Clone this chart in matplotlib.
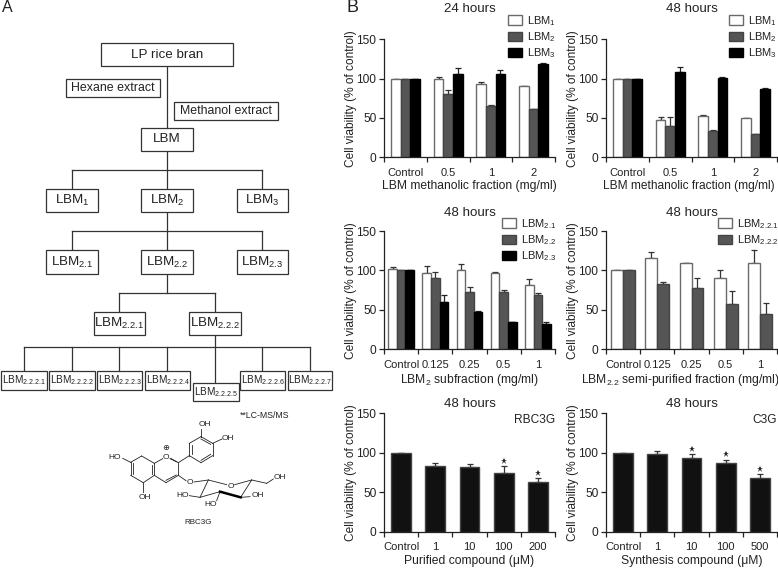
import matplotlib
matplotlib.use("Agg")
import matplotlib.pyplot as plt
from matplotlib.patches import Rectangle

plt.rcParams.update({
    "font.family": ["Liberation Sans", "DejaVu Sans"],
    "mathtext.fontset": "custom",
    "mathtext.rm": "Liberation Sans",
    "mathtext.default": "regular",
    "axes.linewidth": 0.9,
    "text.color": "#1a1a1a",
})

W, H = 778, 568
INK = "#222222"
WHITE, GREY, BLACK = "#ffffff", "#555555", "#000000"

# ---------- data: panel B ----------
cats_p1 = ["Control", "0.5", "1", "2"]
p1_lbm1 = [100, 100, 93, 90];  p1_lbm1_e = [0, 2, 3, 0.5]
p1_lbm2 = [100, 80, 65, 61];   p1_lbm2_e = [0, 5, 1, 0.5]
p1_lbm3 = [100, 106, 106, 118]; p1_lbm3_e = [0, 7, 5, 1.5]

p2_lbm1 = [100, 48, 53, 50];   p2_lbm1_e = [0, 3, 1, 0.3]
p2_lbm2 = [100, 40, 34, 29];   p2_lbm2_e = [0, 11, 0.5, 0.5]
p2_lbm3 = [100, 108, 101, 87]; p2_lbm3_e = [0, 7, 1, 1]

cats_p3 = ["Control", "0.125", "0.25", "0.5", "1"]
p3_a = [102, 97, 100, 97, 82]; p3_a_e = [2, 8, 8, 0.5, 7]
p3_b = [100, 91, 73, 73, 69];  p3_b_e = [0, 7, 6, 2, 3]
p3_c = [100, 60, 47, 34, 32];  p3_c_e = [0, 9, 1.5, 1, 2]

p4_a = [100, 116, 109, 90, 109]; p4_a_e = [0, 8, 0.5, 10, 17]
p4_b = [100, 83, 78, 58, 45];    p4_b_e = [0, 2.5, 12, 16, 14]

cats_p5 = ["Control", "1", "10", "100", "200"]
p5 = [100, 83, 82, 74, 63]; p5_e = [0, 4, 4, 9, 5]; p5_star = [3, 4]

cats_p6 = ["Control", "1", "10", "100", "500"]
p6 = [100, 99, 93, 87, 68]; p6_e = [0, 3, 5, 4, 5]; p6_star = [2, 3, 4]

labels_123 = ["LBM$_{1}$", "LBM$_{2}$", "LBM$_{3}$"]
labels_2x = ["LBM$_{2.1}$", "LBM$_{2.2}$", "LBM$_{2.3}$"]
labels_22x = ["LBM$_{2.2.1}$", "LBM$_{2.2.2}$"]

# ---------- data: panel A diagram ----------
# (label, left, top, right, bottom, font size)
flow_boxes = [
    ("LP rice bran", 101, 43, 233, 66, 9.6),
    ("Hexane extract", 66, 79, 160, 97, 8.9),
    ("Methanol extract", 174, 102, 278, 120, 8.9),
    ("LBM", 141, 128, 193, 151, 9.6),
    ("LBM$_{1}$", 46, 189, 98, 212, 9.6),
    ("LBM$_{2}$", 141, 189, 193, 212, 9.6),
    ("LBM$_{3}$", 237, 189, 288, 212, 9.6),
    ("LBM$_{2.1}$", 46, 250, 98, 274, 9.6),
    ("LBM$_{2.2}$", 141, 250, 193, 274, 9.6),
    ("LBM$_{2.3}$", 237, 250, 288, 274, 9.6),
    ("LBM$_{2.2.1}$", 94, 312, 145, 335, 9.6),
    ("LBM$_{2.2.2}$", 189, 312, 241, 335, 9.6),
    ("LBM$_{2.2.2.1}$", 1, 371, 47, 390, 7.2),
    ("LBM$_{2.2.2.2}$", 49, 371, 95, 390, 7.2),
    ("LBM$_{2.2.2.3}$", 97, 371, 142, 390, 7.2),
    ("LBM$_{2.2.2.4}$", 145, 371, 190, 390, 7.2),
    ("LBM$_{2.2.2.5}$", 193, 383, 239, 401, 7.2),
    ("LBM$_{2.2.2.6}$", 240, 371, 285, 390, 7.2),
    ("LBM$_{2.2.2.7}$", 288, 371, 332, 390, 7.2),
]
flow_lines = [
    (167, 66, 167, 128), (167, 151, 167, 189), (72, 170, 262, 170),
    (72, 170, 72, 189), (262, 170, 262, 189),
    (167, 212, 167, 250), (72, 231, 262, 231), (72, 231, 72, 250), (262, 231, 262, 250),
    (167, 274, 167, 293), (119.5, 293, 215, 293), (119.5, 293, 119.5, 312), (215, 293, 215, 312),
    (215, 335, 215, 383), (24, 347, 310, 347),
    (24, 347, 24, 371), (72, 347, 72, 371), (119.5, 347, 119.5, 371),
    (167, 347, 167, 371), (262, 347, 262, 371), (310, 347, 310, 371),
]
# molecule bonds, in zoomed coordinates of the lower-left panel
bonds = [
    (392, 517, 425, 498), (425, 498, 463, 520), (463, 520, 463, 556), (463, 556, 430, 578),
    (430, 578, 392, 556), (392, 556, 392, 517), (399, 520, 399, 553), (457, 525, 457, 552),
    (463, 520, 488, 506), (510, 506, 535, 518), (535, 518, 535, 556), (535, 556, 498, 578),
    (498, 578, 463, 556), (512, 505, 530, 515), (529, 555, 498, 571), (535, 518, 568, 497),
    (568, 497, 568, 460), (568, 460, 603, 440), (603, 440, 638, 460), (638, 460, 638, 497),
    (638, 497, 603, 518), (603, 518, 568, 497), (575, 493, 575, 464), (603, 447, 632, 463),
    (632, 493, 603, 511), (603, 440, 603, 416), (638, 460, 666, 447),
    (392, 517, 368, 505), (430, 578, 430, 606), (535, 556, 558, 572), (582, 576, 625, 570),
    (625, 570, 680, 584), (704, 584, 755, 570), (625, 570, 600, 622), (600, 622, 660, 605),
    (722, 622, 755, 570), (755, 570, 800, 580), (800, 580, 820, 567), (600, 622, 568, 617),
    (660, 605, 650, 632), (722, 622, 750, 620),
]
bond_bold = [(660, 605, 722, 622)]
atoms = [
    ("HO", 345, 503), ("OH", 435, 622), ("OH", 615, 404), ("OH", 685, 444), ("O", 499, 503),
    ("O", 570, 578), ("O", 692, 588), ("HO", 548, 617), ("HO", 632, 643), ("OH", 773, 616),
    ("OH", 840, 563), ("\u2295", 497, 476),
]


def zx(v):
    return v / 3


def zy(v):
    return 290 + v / 3


def px_axes(fig, left, top, right, bottom):
    return fig.add_axes([left / W, 1 - bottom / H, (right - left) / W, (bottom - top) / H])


fig = plt.figure(figsize=(W / 100, H / 100), dpi=100, facecolor="white")

# ---------- overlay: panel A ----------
ov = fig.add_axes([0, 0, 1, 1], zorder=5)
ov.set_xlim(0, W)
ov.set_ylim(H, 0)
ov.axis("off")
ov.patch.set_alpha(0)

ov.text(2, 8, "A", fontsize=11.5, ha="left", va="center", color=INK)
ov.text(347, 8, "B", fontsize=13, ha="left", va="center", color=INK)

for x0, y0, x1, y1 in flow_lines:
    ov.plot([x0, x1], [y0, y1], color="#333333", lw=0.9, solid_capstyle="projecting")
for label, l, t, r, b, fs in flow_boxes:
    ov.add_patch(Rectangle((l, t), r - l, b - t, fc="white", ec="#333333", lw=0.9, zorder=3))
    ov.text((l + r) / 2, (t + b) / 2, label, ha="center", va="center", fontsize=fs, color=INK, zorder=4)

for x0, y0, x1, y1 in bonds:
    ov.plot([zx(x0), zx(x1)], [zy(y0), zy(y1)], color="#222222", lw=0.6)
for x0, y0, x1, y1 in bond_bold:
    ov.plot([zx(x0), zx(x1)], [zy(y0), zy(y1)], color="#000000", lw=1.8)
for s, x, y in atoms:
    ov.text(zx(x), zy(y), s, ha="center", va="center", fontsize=6.0, color=INK,
            family=["Liberation Sans", "DejaVu Sans"])
ov.text(zx(593), zy(696), "RBC3G", ha="center", va="center", fontsize=5.8, color=INK)
ov.text(zx(795), zy(376), "**LC-MS/MS", ha="center", va="center", fontsize=6.3, color=INK)

# ---------- panel B ----------
LEFT_COL = (384, 555)
RIGHT_COL = (606, 777)
ROWS = [(39.3, 157.3), (231, 349.3), (413.3, 531.7)]
TICK_FS = 8.0
STAR_OFFSET = 7


def panel(col, row, title, title_pad, xlabel, cats, series, width, legend=None, stars=None, corner=None,
          xlabel_center=None, xlabel_fs=8.7):
    ax = px_axes(fig, col[0], row[0], col[1], row[1])
    n = len(cats)
    k = len(series)
    centers = [i + 0.5 for i in range(n)]
    for j, (vals, errs, color, label) in enumerate(series):
        pos = [c + (j - (k - 1) / 2) * width for c in centers]
        edge = color if color == BLACK else ("#6a6a6a" if color == WHITE else "#444444")
        ax.bar(pos, vals, width=width, color=color, edgecolor=edge, linewidth=1.0, label=label, zorder=2)
        ecol = "#333333" if color != BLACK else "#222222"
        ax.errorbar(pos, vals, yerr=[[0] * n, errs], fmt="none", ecolor=ecol, elinewidth=0.9,
                    capsize=2.4, capthick=0.9, zorder=1)
    ax.set_xlim(0, n)
    ax.set_ylim(0, 150)
    ax.set_yticks([0, 50, 100, 150])
    ax.set_xticks(range(n + 1))
    ax.set_xticklabels([])
    ax.set_xticks(centers, minor=True)
    ax.set_xticklabels(cats, minor=True, fontsize=TICK_FS, color=INK)
    ax.tick_params(axis="x", which="minor", length=0, pad=7.5)
    ax.tick_params(axis="x", which="major", length=3.5, width=0.9, color=INK)
    ax.tick_params(axis="y", length=3.5, width=0.9, labelsize=8.6, pad=2, color=INK, labelcolor=INK)
    for s in ("top", "right"):
        ax.spines[s].set_visible(False)
    for s in ("left", "bottom"):
        ax.spines[s].set_color(INK)
    ax.set_title(title, fontsize=9.6, pad=title_pad, color=INK)
    ax.set_xlabel(xlabel, fontsize=xlabel_fs, labelpad=2, color=INK)
    if xlabel_center is not None:
        ax.xaxis.set_label_coords((xlabel_center - col[0]) / (col[1] - col[0]), -0.192)
    ax.set_ylabel("Cell viability (% of control)", fontsize=8.6, color=INK)
    ax.yaxis.set_label_coords(-0.157, 0.5)
    if legend:
        lx, ly = legend
        ax.legend(loc="upper left", bbox_to_anchor=(lx / W, 1 - ly / H), bbox_transform=fig.transFigure,
                  frameon=False, fontsize=8.0, borderpad=0, borderaxespad=0, handlelength=1.3,
                  handleheight=0.95, handletextpad=0.42, labelspacing=0.22, labelcolor=INK)
    if stars:
        vals, errs = series[0][0], series[0][1]
        ax.plot([centers[i] for i in stars], [vals[i] + errs[i] + STAR_OFFSET for i in stars],
                ls="none", marker="*", ms=4.6, color=INK, mew=0, zorder=3)
    if corner:
        ax.text(col[1], row[0] + 7, corner, ha="right", va="center", fontsize=8.6, color=INK,
                transform=ov.transData)
    return ax


def three(a, ae, b, be, c, ce, labs):
    return [(a, ae, WHITE, labs[0]), (b, be, GREY, labs[1]), (c, ce, BLACK, labs[2])]


panel(LEFT_COL, ROWS[0], "24 hours", 19.4, "LBM methanolic fraction (mg/ml)", cats_p1,
      three(p1_lbm1, p1_lbm1_e, p1_lbm2, p1_lbm2_e, p1_lbm3, p1_lbm3_e, labels_123), 0.225,
      legend=(508, 14))
panel(RIGHT_COL, ROWS[0], "48 hours", 19.4, "LBM methanolic fraction (mg/ml)", cats_p1,
      three(p2_lbm1, p2_lbm1_e, p2_lbm2, p2_lbm2_e, p2_lbm3, p2_lbm3_e, labels_123), 0.225,
      legend=(729, 14), xlabel_center=689, xlabel_fs=8.6)
panel(LEFT_COL, ROWS[1], "48 hours", 10.8, "LBM$_{2}$ subfraction (mg/ml)", cats_p3,
      three(p3_a, p3_a_e, p3_b, p3_b_e, p3_c, p3_c_e, labels_2x), 0.25,
      legend=(502, 217))
panel(RIGHT_COL, ROWS[1], "48 hours", 10.8, "LBM$_{2.2}$ semi-purified fraction (mg/ml)", cats_p3,
      [(p4_a, p4_a_e, WHITE, labels_22x[0]), (p4_b, p4_b_e, GREY, labels_22x[1])], 0.35,
      legend=(718, 217), xlabel_center=680)
panel(LEFT_COL, ROWS[2], "48 hours", 4.75, "Purified compound (\u03bcM)", cats_p5,
      [(p5, p5_e, "#111111", None)], 0.58, stars=p5_star, corner="RBC3G")
panel(RIGHT_COL, ROWS[2], "48 hours", 4.75, "Synthesis compound (\u03bcM)", cats_p6,
      [(p6, p6_e, "#111111", None)], 0.58, stars=p6_star, corner="C3G")

fig.savefig("out.png", dpi=100, facecolor="white")
